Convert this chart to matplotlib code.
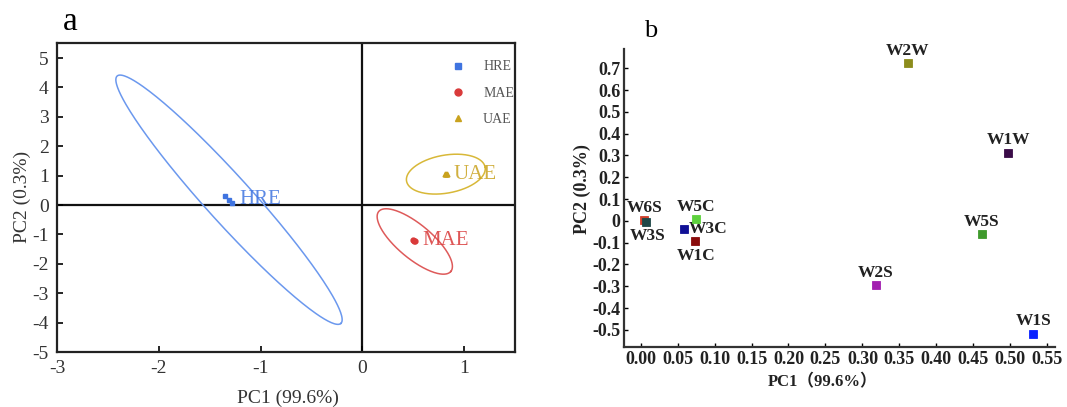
import numpy as np
import matplotlib
matplotlib.use("Agg")
import matplotlib.pyplot as plt
from matplotlib.lines import Line2D

plt.rcParams['font.family'] = ['Liberation Serif', 'Noto Sans CJK SC', 'DejaVu Sans']
plt.rcParams['axes.unicode_minus'] = False

# panel a: PCA scores of the three extraction methods
groups = ['HRE', 'MAE', 'UAE']
hre_pc1 = [-1.35, -1.31, -1.28]
hre_pc2 = [0.32, 0.18, 0.08]
mae_pc1 = [0.50, 0.52, 0.51]
mae_pc2 = [-1.18, -1.24, -1.21]
uae_pc1 = [0.81, 0.83, 0.82]
uae_pc2 = [1.04, 1.07, 1.05]

# confidence ellipses: centre, semi-axis vectors (data units)
ell_center = [(-1.31, 0.18), (0.515, -1.24), (0.82, 1.05)]
ell_axis1 = [(1.099, -4.207), (0.354, -1.02), (0.386, 0.236)]
ell_axis2 = [(0.167, 0.525), (0.107, 0.445), (-0.032, 0.636)]

# panel b: samples
samples = ['W2W', 'W1W', 'W5S', 'W2S', 'W1S', 'W6S', 'W3S', 'W3C', 'W5C', 'W1C']
pc1_b = [0.361, 0.497, 0.461, 0.318, 0.531, 0.005, 0.007, 0.059, 0.075, 0.073]
pc2_b = [0.722, 0.313, -0.061, -0.296, -0.518, 0.004, -0.004, -0.036, 0.008, -0.092]

xticks_b = [0.00, 0.05, 0.10, 0.15, 0.20, 0.25, 0.30, 0.35, 0.40, 0.45, 0.50, 0.55]
yticks_b = [-0.5, -0.4, -0.3, -0.2, -0.1, 0, 0.1, 0.2, 0.3, 0.4, 0.5, 0.6, 0.7]
ylabels_b = ['-0.5', '-0.4', '-0.3', '-0.2', '-0.1', '0', '0.1', '0.2', '0.3',
             '0.4', '0.5', '0.6', '0.7']

col_a = {'HRE': '#3f74e0', 'MAE': '#d93a3a', 'UAE': '#c9a21e'}
col_ell = {'HRE': '#6b98ee', 'MAE': '#de5a5a', 'UAE': '#d8b838'}
mk_a = {'HRE': 's', 'MAE': 'o', 'UAE': '^'}
col_b = ['#8c8c1c', '#3a0c48', '#3f9a2c', '#a21fb0', '#0a22ff',
         '#d0402c', '#1e4848', '#101096', '#5ed23e', '#8a0c0c']
where = {'W2W': 'up', 'W1W': 'up', 'W5S': 'up', 'W2S': 'up', 'W1S': 'up',
         'W6S': 'up', 'W3S': 'down', 'W3C': 'right', 'W5C': 'up', 'W1C': 'down'}

fig = plt.figure(figsize=(10.67, 4.07), dpi=100)

# ---------------- panel a ----------------
ax = fig.add_axes([0.0534, 0.1351, 0.4293, 0.7585])
pts = {'HRE': (hre_pc1, hre_pc2), 'MAE': (mae_pc1, mae_pc2), 'UAE': (uae_pc1, uae_pc2)}
t = np.linspace(0, 2 * np.pi, 300)
for i, g in enumerate(groups):
    cx, cy = ell_center[i]
    ax1, ay1 = ell_axis1[i]
    bx, by = ell_axis2[i]
    ax.plot(cx + ax1 * np.cos(t) + bx * np.sin(t),
            cy + ay1 * np.cos(t) + by * np.sin(t),
            color=col_ell[g], lw=1.1, zorder=2)
    x, y = pts[g]
    ax.plot(x, y, ls='none', marker=mk_a[g], ms=3.5, color=col_a[g], zorder=3)
    ax.text(max(x) + 0.07, np.mean(y), g, color=col_a[g], fontsize=15,
            ha='left', va='center', alpha=0.85, zorder=4)

ax.axhline(0, color='#111111', lw=1.6, zorder=1)
ax.axvline(0, color='#111111', lw=1.6, zorder=1)
ax.set_xlim(-3, 1.5)
ax.set_ylim(-5, 5.5)
ax.set_xticks([-3, -2, -1, 0, 1])
ax.set_yticks(range(-5, 6))
ax.tick_params(direction='in', length=4, width=1.2, labelsize=14,
               labelcolor='#333333', pad=6)
for s in ax.spines.values():
    s.set_linewidth(1.6)
    s.set_color('#222222')

handles = [Line2D([], [], ls='none', marker=mk_a[g], color=col_a[g], ms=5)
           for g in groups]
leg = ax.legend(handles, groups, loc='upper right', bbox_to_anchor=(1.025, 0.985),
                frameon=False, fontsize=10, labelspacing=0.95, handletextpad=1.3,
                handlelength=1.0)
for tx in leg.get_texts():
    tx.set_color('#555555')

fig.text(0.0656, 0.946, 'a', fontsize=24, ha='center', va='center')
fig.text(0.270, 1 - 398 / 407, 'PC1 (99.6%)', fontsize=14, color='#333333',
         ha='center', va='center')
fig.text(0.0206, 1 - 197 / 407, 'PC2 (0.3%)', fontsize=14, color='#333333',
         ha='center', va='center', rotation=90)

# ---------------- panel b ----------------
bx_ = fig.add_axes([0.5851, 0.1482, 0.4037, 0.7307])
for i, name in enumerate(samples):
    bx_.plot(pc1_b[i], pc2_b[i], ls='none', marker='s', ms=6,
             mfc=col_b[i], mec=col_b[i], mew=0.6, zorder=3)
    pos = where[name]
    if pos == 'up':
        off, ha, va = (0, 9), 'center', 'center'
    elif pos == 'down':
        off, ha, va = (1, -10.5), 'center', 'center'
    else:
        off, ha, va = (3.5, 0), 'left', 'center'
    bx_.annotate(name, (pc1_b[i], pc2_b[i]), xytext=off, textcoords='offset points',
                 ha=ha, va=va, fontsize=12.5, fontweight='bold', color='#222222')

bx_.set_xlim(-0.022, 0.5604)
bx_.set_ylim(-0.577, 0.787)
bx_.set_xticks(xticks_b)
bx_.set_xticklabels(['%.2f' % v for v in xticks_b])
bx_.set_yticks(yticks_b)
bx_.set_yticklabels(ylabels_b)
bx_.tick_params(direction='in', length=3, width=1.0, labelsize=13,
                labelcolor='#222222', pad=3)
for lab in bx_.get_xticklabels() + bx_.get_yticklabels():
    lab.set_fontweight('bold')
bx_.spines['top'].set_visible(False)
bx_.spines['right'].set_visible(False)
for s in ['left', 'bottom']:
    bx_.spines[s].set_linewidth(1.6)
    bx_.spines[s].set_color('#333333')

fig.text(651 / 1067, 1 - 31 / 407, 'b', fontsize=19, ha='center', va='center')
fig.text(823 / 1067, 1 - 382 / 407, 'PC1（99.6%）', fontsize=12, fontweight='bold',
         color='#222222', ha='center', va='center')
fig.text(582 / 1067, 1 - 189 / 407, 'PC2 (0.3%)', fontsize=13, fontweight='bold',
         color='#222222', ha='center', va='center', rotation=90)

fig.savefig('out.png', dpi=100)
